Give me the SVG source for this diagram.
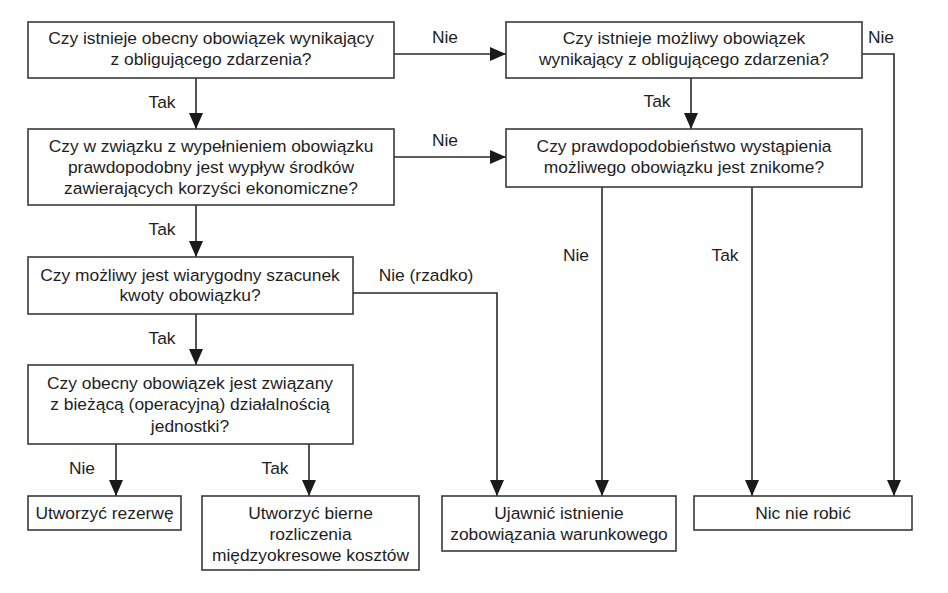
<svg xmlns="http://www.w3.org/2000/svg" width="948" height="593" viewBox="0 0 948 593">
<defs>
<marker id="arr" markerUnits="userSpaceOnUse" markerWidth="16" markerHeight="14" refX="16" refY="7" orient="auto">
<path d="M0,0 L16,7 L0,14 z" fill="#1a1a1a"/>
</marker>
<style>
.box{fill:#fff;stroke:#3a3a3a;stroke-width:1.6}
.t{font-family:"Liberation Sans",Arial,sans-serif;font-size:17.4px;fill:#1e1e1e;text-anchor:middle}
.lbl{font-family:"Liberation Sans",Arial,sans-serif;font-size:17.4px;fill:#1e1e1e;text-anchor:middle}
.c{fill:none;stroke:#2a2a2a;stroke-width:1.6}
.ca{fill:none;stroke:#2a2a2a;stroke-width:1.6;marker-end:url(#arr)}
</style>
</defs>
<rect width="948" height="593" fill="#fff"/>
<g id="connectors">
<path class="ca" d="M196,78 V129"/>
<path class="ca" d="M196,205 V257"/>
<path class="ca" d="M196,314 V365"/>
<path class="ca" d="M116,444 V496"/>
<path class="ca" d="M309,444 V496"/>
<path class="ca" d="M394,54 H506"/>
<path class="ca" d="M394,157 H506"/>
<path class="ca" d="M691,78 V129"/>
<path class="ca" d="M862,54 H894 V496"/>
<path class="ca" d="M353,293 H497 V496"/>
<path class="ca" d="M602,187 V496"/>
<path class="ca" d="M752,187 V496"/>
<text class="lbl" x="162" y="108">Tak</text>
<text class="lbl" x="162" y="235">Tak</text>
<text class="lbl" x="162" y="344">Tak</text>
<text class="lbl" x="82" y="474">Nie</text>
<text class="lbl" x="275" y="474">Tak</text>
<text class="lbl" x="445" y="43">Nie</text>
<text class="lbl" x="445" y="146">Nie</text>
<text class="lbl" x="657" y="107">Tak</text>
<text class="lbl" x="881" y="43">Nie</text>
<text class="lbl" x="426" y="281">Nie (rzadko)</text>
<text class="lbl" x="576" y="261">Nie</text>
<text class="lbl" x="725" y="261">Tak</text>
</g>
<g id="q1">
<rect class="box" x="28" y="22" width="366" height="56"/>
<text class="t" x="211" y="44">Czy istnieje obecny obowiązek wynikający</text>
<text class="t" x="211" y="65">z obligującego zdarzenia?</text>
</g>
<g id="q2">
<rect class="box" x="28" y="129" width="366" height="76"/>
<text class="t" x="211" y="152">Czy w związku z wypełnieniem obowiązku</text>
<text class="t" x="211" y="173">prawdopodobny jest wypływ środków</text>
<text class="t" x="211" y="194">zawierających korzyści ekonomiczne?</text>
</g>
<g id="q3">
<rect class="box" x="28" y="257" width="325" height="57"/>
<text class="t" x="190" y="281">Czy możliwy jest wiarygodny szacunek</text>
<text class="t" x="190" y="301">kwoty obowiązku?</text>
</g>
<g id="q4">
<rect class="box" x="28" y="365" width="325" height="79"/>
<text class="t" x="190" y="389">Czy obecny obowiązek jest związany</text>
<text class="t" x="190" y="410">z bieżącą (operacyjną) działalnością</text>
<text class="t" x="190" y="432">jednostki?</text>
</g>
<g id="q5">
<rect class="box" x="506" y="22" width="356" height="56"/>
<text class="t" x="684" y="44">Czy istnieje możliwy obowiązek</text>
<text class="t" x="684" y="65">wynikający z obligującego zdarzenia?</text>
</g>
<g id="q6">
<rect class="box" x="506" y="129" width="356" height="58"/>
<text class="t" x="684" y="152">Czy prawdopodobieństwo wystąpienia</text>
<text class="t" x="684" y="173">możliwego obowiązku jest znikome?</text>
</g>
<g id="a1">
<rect class="box" x="28" y="496" width="153" height="34"/>
<text class="t" x="104.5" y="519">Utworzyć rezerwę</text>
</g>
<g id="a2">
<rect class="box" x="202" y="496" width="217" height="74"/>
<text class="t" x="310.5" y="519">Utworzyć bierne</text>
<text class="t" x="310.5" y="540">rozliczenia</text>
<text class="t" x="310.5" y="561">międzyokresowe kosztów</text>
</g>
<g id="a3">
<rect class="box" x="442" y="496" width="234" height="55"/>
<text class="t" x="559" y="519">Ujawnić istnienie</text>
<text class="t" x="559" y="540">zobowiązania warunkowego</text>
</g>
<g id="a4">
<rect class="box" x="694" y="496" width="218" height="34"/>
<text class="t" x="803" y="519">Nic nie robić</text>
</g>
</svg>
